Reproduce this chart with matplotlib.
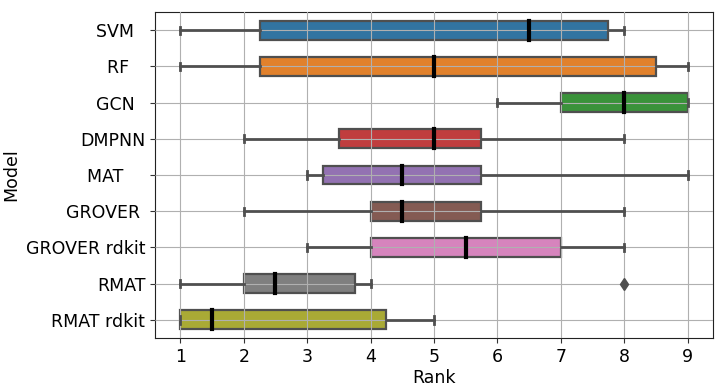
import matplotlib
matplotlib.use("Agg")
import matplotlib.pyplot as plt
import seaborn as sns

models = ["SVM  ", "RF   ", "GCN  ", "DMPNN", "MAT    ", "GROVER ", "GROVER rdkit", "RMAT", "RMAT rdkit"]
whislo = [1, 1, 6, 2, 3, 2, 3, 1, 1]
q1 = [2.25, 2.25, 7, 3.5, 3.25, 4, 4, 2, 1]
med = [6.5, 5, 8, 5, 4.5, 4.5, 5.5, 2.5, 1.5]
q3 = [7.75, 8.5, 9, 5.75, 5.75, 5.75, 7, 3.75, 4.25]
whishi = [8, 9, 9, 8, 9, 8, 8, 4, 5]
fliers = [[], [], [], [], [], [], [], [8], []]
xticks = [1, 2, 3, 4, 5, 6, 7, 8, 9]

plt.rcParams['font.family'] = ['DejaVu Sans']
fig, ax = plt.subplots(figsize=(7.23, 3.91), dpi=100)
fig.subplots_adjust(left=0.2144, right=0.986, top=0.969, bottom=0.1355)

stats = []
for i in range(len(models)):
    stats.append(dict(label=models[i], whislo=whislo[i], q1=q1[i], med=med[i],
                      q3=q3[i], whishi=whishi[i], fliers=fliers[i]))

colors = [sns.desaturate(c, 0.75) for c in plt.get_cmap('tab10').colors]
lc = "#4f4f4f"
bp = ax.bxp(stats, positions=list(range(len(models))), vert=False, widths=0.52,
            patch_artist=True, capwidths=0.2,
            boxprops=dict(edgecolor=lc, linewidth=1.6, zorder=2),
            whiskerprops=dict(color=lc, linewidth=2, zorder=6),
            capprops=dict(color=lc, linewidth=2, zorder=6),
            medianprops=dict(color='black', linewidth=3, zorder=7, solid_capstyle='projecting'),
            flierprops=dict(marker='d', markerfacecolor=lc, markeredgecolor=lc,
                            markersize=6, zorder=6))
for patch, c in zip(bp['boxes'], colors):
    patch.set_facecolor(c)

ax.set_ylim(len(models) - 0.5, -0.5)
ax.set_xlim(0.6, 9.4)
ax.set_xticks(xticks)
ax.set_yticks(range(len(models)))
ax.set_yticklabels(models)
ax.tick_params(labelsize=12.5, color='#333333')
ax.set_axisbelow(False)
ax.grid(True, color='#b0b0b0', linewidth=0.8, zorder=5)
ax.set_xlabel("Rank", fontsize=12.5, labelpad=2)
ax.set_ylabel("Model", fontsize=12.5)
for s in ax.spines.values():
    s.set_color('#222222')

fig.savefig("out.png", dpi=100)
